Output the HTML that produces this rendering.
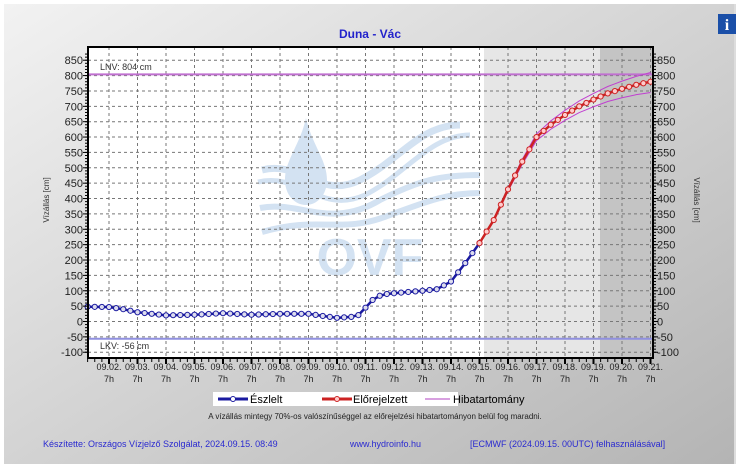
<!DOCTYPE html>
<html><head><meta charset="utf-8"><style>
body{margin:0;width:750px;height:469px;overflow:hidden;background:#fff;font-family:"Liberation Sans",sans-serif}
</style></head><body>
<svg id="s" width="750" height="469" xmlns="http://www.w3.org/2000/svg" font-family="Liberation Sans, sans-serif">
<defs><linearGradient id="bg" x1="0" y1="0" x2="1" y2="1"><stop offset="0" stop-color="#f2f2f2"/><stop offset="1" stop-color="#b4b4b4"/></linearGradient></defs>
<rect x="4" y="4" width="730" height="460" fill="url(#bg)"/>
<rect x="734" y="4" width="2" height="460" fill="#ddd"/>
<rect x="718" y="14" width="18" height="20" fill="#1a4fa8"/>
<text x="727" y="30" font-size="16" font-weight="bold" fill="#fff" text-anchor="middle" font-family="Liberation Serif">i</text>
<text x="370" y="38" font-size="12" font-weight="bold" fill="#2222cc" text-anchor="middle">Duna - Vác</text>
<rect x="88" y="47" width="565" height="311" fill="#fff"/>
<rect x="484" y="47" width="116" height="311" fill="#e6e6e6"/>
<rect x="600" y="47" width="53" height="311" fill="#c4c4c4"/>
<g id="wm" fill="#d3e2f2" stroke="#d3e2f2">
<path d="M306 118 C300 145 285 160 285 180 C285 195 295 205 306 205 C317 205 327 195 327 180 C327 160 312 145 306 118Z" stroke="none"/>
<path d="M262 170 C300 160 320 200 360 180 C400 160 420 125 460 125" fill="none" stroke-width="7"/>
<path d="M258 182 C300 172 320 215 365 195 C405 175 430 135 470 135" fill="none" stroke-width="5"/>
<path d="M260 208 C300 200 330 230 380 200 C420 180 440 175 480 175" fill="none" stroke-width="6"/>
<path d="M262 232 C320 215 340 235 390 215 C430 200 450 193 480 193" fill="none" stroke-width="6"/>
<text x="370" y="275" font-size="52" font-weight="bold" text-anchor="middle" stroke="none">OVF</text>
</g>
<g id="grid" stroke="#777" stroke-dasharray="3,3" stroke-width="1"></g>
<g id="ser"></g>
<rect x="88" y="47" width="565" height="311" fill="none" stroke="#000" stroke-width="2"/>
<g id="ax" font-size="11" fill="#222"></g>
<text x="100" y="70" font-size="9" fill="#333">LNV: 804 cm</text>
<text x="100" y="349" font-size="9" fill="#333">LKV: -56 cm</text>
<text transform="translate(49,200) rotate(-90)" font-size="8" fill="#333" text-anchor="middle">Vízállás [cm]</text>
<text transform="translate(694,200) rotate(90)" font-size="8" fill="#333" text-anchor="middle">Vízállás [cm]</text>
<rect x="213" y="392" width="245" height="14" fill="#fff"/>
<line x1="218" y1="399" x2="248" y2="399" stroke="#1a1aa0" stroke-width="3"/><circle cx="233" cy="399" r="2.5" fill="#fff" stroke="#1a1aa0"/>
<text x="250" y="403" font-size="11" fill="#000">Észlelt</text>
<line x1="322" y1="399" x2="352" y2="399" stroke="#cc2222" stroke-width="3"/><circle cx="337" cy="399" r="2.5" fill="#fcc" stroke="#cc2222"/>
<text x="353" y="403" font-size="11" fill="#000">Előrejelzett</text>
<line x1="425" y1="399" x2="450" y2="399" stroke="#b040c0" stroke-width="1"/>
<text x="453" y="403" font-size="11" fill="#000">Hibatartomány</text>
<text x="375" y="419" font-size="8" fill="#222" text-anchor="middle">A vízállás mintegy 70%-os valószínűséggel az előrejelzési hibatartományon belül fog maradni.</text>
<text x="43" y="447" font-size="9" fill="#2a2ad0">Készítette: Országos Vízjelző Szolgálat, 2024.09.15. 08:49</text>
<text x="350" y="447" font-size="9" fill="#2a2ad0">www.hydroinfo.hu</text>
<text x="470" y="447" font-size="9" fill="#2a2ad0">[ECMWF (2024.09.15. 00UTC) felhasználásával]</text>
</svg>
<script>
const NS="http://www.w3.org/2000/svg";
const Y=v=>321.5-v*0.3074, X=d=>109+d*28.5;
function el(p,t,a){const e=document.createElementNS(NS,t);for(const k in a)e.setAttribute(k,a[k]);p.appendChild(e);return e;}
const g=document.getElementById('grid'),ax=document.getElementById('ax');
for(let v=-100;v<=850;v+=50){const y=Y(v);if(v%100!==0||true)el(g,'line',{x1:88,x2:653,y1:y,y2:y});
 el(ax,'text',{x:83,y:y+4,'text-anchor':'end'}).textContent=v;
 el(ax,'text',{x:657,y:y+4}).textContent=v;
 el(ax,'line',{x1:83,x2:88,y1:y,y2:y,stroke:'#000'});el(ax,'line',{x1:653,x2:658,y1:y,y2:y,stroke:'#000'});}
for(let v=-100;v<=870;v+=10){const y=Y(v);el(ax,'line',{x1:85,x2:88,y1:y,y2:y,stroke:'#000'});el(ax,'line',{x1:653,x2:656,y1:y,y2:y,stroke:'#000'});}
for(let d=0;d<=19;d++){const x=X(d);el(g,'line',{x1:x,x2:x,y1:47,y2:358});
 const dd=String(d+2).padStart(2,'0');
 el(ax,'text',{x:x,y:370,'text-anchor':'middle','font-size':9}).textContent='09.'+dd+'.';
 el(ax,'text',{x:x,y:382,'text-anchor':'middle','font-size':9}).textContent='7h';
 el(ax,'line',{x1:x,x2:x,y1:358,y2:364,stroke:'#000','stroke-width':2});}
for(let d=-0.75;d<=19;d+=0.25){const x=X(d);el(ax,'line',{x1:x,x2:x,y1:358,y2:362,stroke:'#000'});}
const s=document.getElementById('ser');
el(s,'line',{x1:88,x2:653,y1:Y(804),y2:Y(804),stroke:'#c070d0','stroke-width':2});
el(s,'line',{x1:88,x2:653,y1:Y(-56),y2:Y(-56),stroke:'#9090e0','stroke-width':2});
function interp(k,d){for(let i=0;i<k.length-1;i++)if(d>=k[i][0]&&d<=k[i+1][0]){const t=(d-k[i][0])/(k[i+1][0]-k[i][0]);return k[i][1]+t*(k[i+1][1]-k[i][1]);}return k[k.length-1][1];}
const obs=[[-0.75,48],[0,47],[0.5,40],[1,30],[1.5,25],[2,20],[3,22],[4,27],[5,22],[6,25],[7,25],[7.5,18],[8,12],[8.5,15],[8.8,22],[9,45],[9.3,75],[9.6,88],[10,92],[11,100],[11.5,105],[12,130],[12.5,190],[13,255]];
const fc=[[13,255],[13.5,330],[14,430],[14.5,520],[15,600],[15.5,640],[16,672],[16.5,700],[17,722],[17.5,742],[18,757],[18.5,770],[19,780]];
function series(k,d0,d1,col,fill){let pts=[];for(let d=d0;d<=d1+1e-6;d+=0.25)pts.push([X(d),Y(interp(k,d))]);
 el(s,'polyline',{points:pts.map(p=>p.join(',')).join(' '),fill:'none',stroke:col,'stroke-width':2.5});
 pts.forEach(p=>el(s,'circle',{cx:p[0],cy:p[1],r:2.6,fill:fill,stroke:col,'stroke-width':1}));}
let up=[],lo=[];for(let d=13;d<=19.01;d+=0.25){const v=interp(fc,d),f=(d-13)/6;up.push(X(d)+','+Y(v+30*f));lo.push(X(d)+','+Y(v-35*f));}
el(s,'polyline',{points:up.join(' '),fill:'none',stroke:'#c040d0','stroke-width':1});
el(s,'polyline',{points:lo.join(' '),fill:'none',stroke:'#c040d0','stroke-width':1});
series(obs,-0.75,13,'#1a1aa0','#dde');
series(fc,13,19,'#cc2222','#fcc');
</script>
</body></html>
